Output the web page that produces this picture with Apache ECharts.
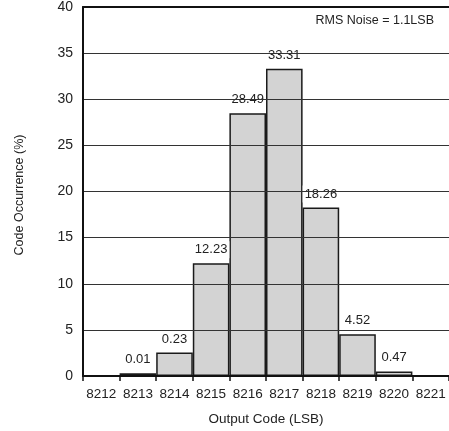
<!DOCTYPE html>
<html>
<head>
<meta charset="utf-8">
<script src="https://cdn.jsdelivr.net/npm/echarts@6/dist/echarts.min.js"></script>
<style>html,body{margin:0;padding:0;background:#fff}#c{width:449px;height:431px}</style>
</head>
<body>
<div id="c"></div>
<script>
const categories = ['8212','8213','8214','8215','8216','8217','8218','8219','8220','8221'];
const occurrence = [0, 0.3, 2.55, 12.23, 28.49, 33.31, 18.26, 4.52, 0.5, 0];
const barLabels = ['', '0.01', '0.23', '12.23', '28.49', '33.31', '18.26', '4.52', '0.47', ''];
const yTicks = [0, 5, 10, 15, 20, 25, 30, 35, 40];
const annotation = 'RMS Noise = 1.1LSB';
const xTitle = 'Output Code (LSB)';
const yTitle = 'Code Occurrence (%)';

const FONT = 'Liberation Sans, Arial, sans-serif';
const chart = echarts.init(document.getElementById('c'), null, {renderer: 'canvas'});
chart.setOption({
  animation: false,
  backgroundColor: '#fff',
  grid: {left: 83, top: 7, width: 367, height: 369, containLabel: false},
  xAxis: [{
    type: 'category',
    data: categories,
    boundaryGap: true,
    axisLine: {lineStyle: {color: '#111', width: 2}},
    axisTick: {show: true, length: 5, lineStyle: {color: '#111', width: 1.5}},
    axisLabel: {color: '#222', fontSize: 13.5, fontFamily: FONT, margin: 11, interval: 0},
    name: xTitle,
    nameLocation: 'middle',
    nameGap: 36,
    nameTextStyle: {color: '#222', fontSize: 13.5, fontFamily: FONT},
    splitLine: {show: false},
    z: 5
  }, {
    type: 'category',
    data: categories,
    position: 'top',
    axisLine: {lineStyle: {color: '#111', width: 2}},
    axisTick: {show: false},
    axisLabel: {show: false},
    z: 5
  }],
  yAxis: {
    type: 'value',
    min: yTicks[0],
    max: yTicks[yTicks.length - 1],
    interval: 5,
    axisLine: {show: true, lineStyle: {color: '#111', width: 2}},
    axisTick: {show: false},
    axisLabel: {color: '#222', fontSize: 14, fontFamily: FONT, margin: 10},
    splitLine: {show: true, lineStyle: {color: '#333', width: 1}},
    z: 5
  },
  graphic: [
    {type: 'text', x: 434, y: 21,
     style: {text: annotation, fill: '#222', font: '12.5px ' + FONT, textAlign: 'right', textVerticalAlign: 'middle'}},
    {type: 'text', x: 20, y: 195, rotation: Math.PI / 2,
     style: {text: yTitle, fill: '#222', font: '12.5px ' + FONT, textAlign: 'center', textVerticalAlign: 'middle'}}
  ],
  series: [{
    type: 'bar',
    data: occurrence,
    barCategoryGap: '0%',
    itemStyle: {color: '#d3d3d3', borderColor: '#1a1a1a', borderWidth: 1.5},
    label: {
      show: true,
      position: 'top',
      distance: 5,
      formatter: p => barLabels[p.dataIndex],
      color: '#222',
      fontSize: 13,
      fontFamily: FONT,
      backgroundColor: '#fff',
      padding: [2, 2]
    },
    z: 3
  }]
});
</script>
</body>
</html>
